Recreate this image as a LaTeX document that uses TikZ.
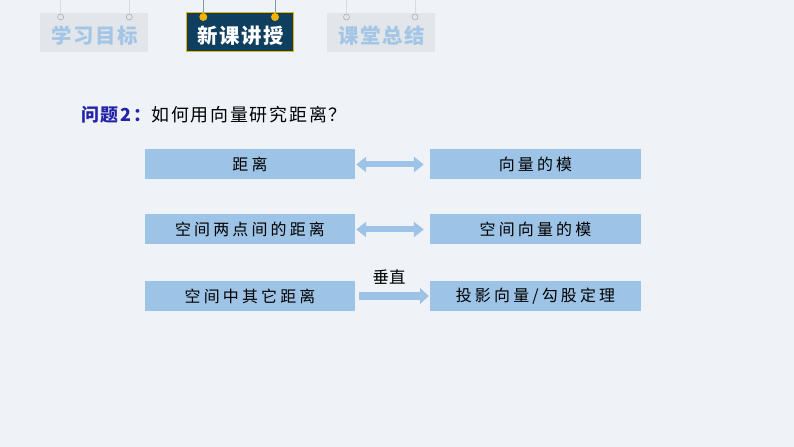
\documentclass[tikz,border=0pt]{standalone}
\usepackage{fontspec}
\newfontfamily\cjk{Noto Sans CJK SC}
\newfontfamily\cjksp[LetterSpace=20]{Noto Sans CJK SC}
\newfontfamily\cjkti[LetterSpace=10]{Noto Sans CJK SC}
\newfontfamily\cjktab[LetterSpace=8]{Noto Sans CJK SC}
\usetikzlibrary{arrows.meta}
\definecolor{bgc}{HTML}{EFF3F8}
\definecolor{boxc}{HTML}{9DC3E6}
\definecolor{arrc}{HTML}{9DC3E6}
\definecolor{tabgray}{HTML}{E2E5E9}
\definecolor{tabtext}{HTML}{A3C6E6}
\definecolor{navy}{HTML}{0E3F5E}
\definecolor{gold}{HTML}{F0B400}
\definecolor{qblue}{HTML}{2323A8}
\definecolor{strgray}{HTML}{D6DCE3}
\definecolor{strdark}{HTML}{8098AC}
\tikzset{
  box/.style={fill=boxc, draw=none, minimum width=210bp, minimum height=30bp,
    inner sep=0pt, font=\cjksp\fontsize{16}{16}\selectfont, text=black},
  tabL/.style={fill=tabgray, draw=none, minimum width=108bp, minimum height=39bp,
    inner sep=0pt, font=\cjktab\bfseries\fontsize{20.5}{20.5}\selectfont, text=tabtext},
  tabA/.style={fill=navy, draw=gold, line width=0.8bp, minimum width=107bp, minimum height=39bp,
    inner sep=0pt, font=\cjktab\bfseries\fontsize{20.5}{20.5}\selectfont, text=white},
  tabtxt/.style={inner sep=0pt},
  holeL/.style={circle, draw=gray!70, fill=tabgray, line width=0.5bp, minimum size=6bp, inner sep=0pt},
  holeA/.style={circle, fill=gold, minimum size=8bp, inner sep=0pt},
  blockdbl/.style={draw=arrc, line width=6bp, {Triangle[width=15bp,length=10bp]}-{Triangle[width=15bp,length=10bp]}},
  blockone/.style={draw=arrc, line width=8bp, -{Triangle[width=16bp,length=9bp]}},
}
\begin{document}
\begin{tikzpicture}[x=1bp,y=-1bp]
\fill[bgc] (0,0) rectangle (794,447);
\useasboundingbox (0,0) rectangle (794,447);
% tabs
\draw[strgray, line width=0.6bp] (60.7,0) -- (60.7,15) (129.3,0) -- (129.3,15);
\draw[strgray, line width=0.6bp] (346.5,0) -- (346.5,15) (415,0) -- (415,15);
\draw[strdark, line width=0.6bp] (203.3,0) -- (203.3,14) (275,0) -- (275,14);
\node[tabL] (t1) at (94,32.2) {};
\node[tabA] (t2) at (239.5,32.2) {};
\node[tabL] (t3) at (380.7,32.2) {};
\node[tabL, fill=none, minimum width=0pt, minimum height=0pt] (t1t) at (95,35.5) {学习目标};
\node[tabA, fill=none, draw=none, minimum width=0pt, minimum height=0pt] (t2t) at (240.5,35.5) {新课讲授};
\node[tabL, fill=none, minimum width=0pt, minimum height=0pt] (t3t) at (381.7,35.5) {课堂总结};
\node[holeL] (h1) at (60.7,17) {};
\node[holeL] (h2) at (129.3,17) {};
\node[holeA] (h3) at (203.3,17) {};
\node[holeA] (h4) at (275,17) {};
\node[holeL] (h5) at (346.5,17) {};
\node[holeL] (h6) at (415,17) {};
% title
\node[anchor=west, inner sep=0pt, font=\cjkti\fontsize{18}{18}\selectfont] (title) at (81,115)
  {{\color{qblue}\bfseries 问题2：}如何用向量研究距离？};
% boxes
\node[box] (l1) at (250,164.5) {距离};
\node[box, minimum width=211bp] (r1) at (535.5,164.5) {向量的模};
\node[box] (l2) at (250,229.5) {空间两点间的距离};
\node[box, minimum width=211bp] (r2) at (535.5,229.5) {空间向量的模};
\node[box] (l3) at (250,296) {空间中其它距离};
\node[box, minimum width=211bp] (r3) at (535.5,296) {投影向量/勾股定理};
% arrows
\draw[blockdbl, shorten <=1bp, shorten >=6bp] (l1.east) -- (r1.west);
\draw[blockdbl, shorten <=1bp, shorten >=6bp] (l2.east) -- (r2.west);
\draw[blockone, shorten <=4bp, shorten >=1bp] (l3.east) -- (r3.west);
\node[inner sep=0pt, font=\cjk\fontsize{16.5}{16.5}\selectfont] (perp) at (389,277) {垂直};
\end{tikzpicture}
\end{document}
